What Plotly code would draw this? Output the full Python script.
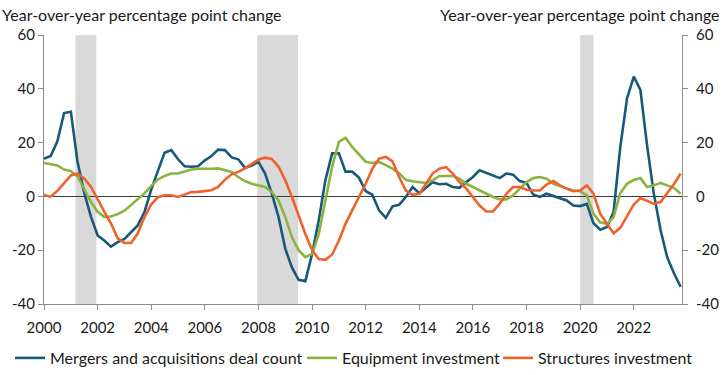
import pandas as pd
import plotly.graph_objects as go

# Quarterly, 2000Q1 .. 2023Q4
quarters = pd.period_range("2000Q1", "2023Q4", freq="Q").to_timestamp()

mna_deal_count = [
    14, 15, 20.5, 31, 31.5, 13, 1.5, -7.5,
    -14.5, -16.4, -18.7, -17, -15.8, -13.3, -10.8, -5.8,
    2.5, 9.5, 16.2, 17.2, 13.8, 11.2, 11, 11.2,
    13.4, 15, 17.4, 17.2, 14.5, 13.8, 10.6, 11.5,
    12.8, 8.5, 1, -7.7, -19.5, -26.4, -31, -31.5,
    -21.4, -9, 6, 16, 16, 9.2, 9.2, 7,
    2, 0.6, -5.2, -8, -3.7, -3.1, -0.2, 3.5,
    1.2, 3.2, 5.3, 4.5, 4.7, 3.5, 3.2, 5.3,
    7.2, 9.7, 8.7, 7.8, 6.8, 8.5, 8.1, 5.7,
    5, 0.7, -0.2, 1, 0.1, -0.5, -1.5, -3.4,
    -3.6, -2.8, -10, -12.4, -11.4, -5.8, 18.4, 36.4,
    44.5, 39.6, 19, 1, -12.5, -22.6, -28.5, -33.6,
]

equipment_investment = [
    12.4, 12, 11.5, 10, 9.4, 7.5, 3, -2,
    -5.7, -7.6, -7.5, -6.6, -5.3, -3.2, -1.1, 1.1,
    3.9, 6.3, 7.6, 8.5, 8.5, 9.3, 10, 10.3,
    10.2, 10.3, 10.4, 9.8, 9.1, 7.2, 5.7, 4.7,
    4.1, 3.5, 1.6, -1.5, -7.7, -15.2, -20, -22.6,
    -21.4, -14, -1.5, 11, 20.3, 21.8, 18.4, 15.7,
    12.9, 12.4, 12.8, 11.6, 10.3, 8.5, 6.2, 5.6,
    5.3, 5, 6, 7.6, 7.6, 7.6, 6.6, 4.7,
    3.5, 2.2, 1, -0.2, -1.1, -1.1, 0.4, 2.9,
    5.3, 6.8, 7.2, 6.6, 4.7, 3.9, 2.9, 2.2,
    1.9, 0.4, -6.5, -9.6, -10.2, -7.7, 1.2, 4.7,
    6.1, 6.8, 3.5, 4.1, 5, 4.1, 3.2, 1,
]

structures_investment = [
    0.5, -0.1, 2.1, 5, 7.8, 8.5, 6.7, 3.6,
    -1.4, -5.7, -10, -15.6, -17.3, -17.3, -13.8, -7.6,
    -3, -0.3, 0.4, 0.4, -0.2, 0.7, 1.6, 1.7,
    2, 2.3, 3.5, 6.2, 8.2, 9.1, 10.4, 12,
    13.7, 14.4, 13.9, 11, 6, -0.2, -7.1, -14,
    -20, -23.3, -23.6, -21.6, -16.4, -10.2, -5.2, -0.2,
    4.7, 10.3, 14, 14.7, 13, 7.2, 2.2, 0.6,
    1, 4.7, 8.5, 10.3, 10.9, 8.5, 5.3, 3,
    -0.2, -3.4, -5.6, -5.6, -2.7, 1, 3.5, 3.5,
    2.5, 2.2, 2.2, 4.4, 5.7, 4.1, 2.9, 1.9,
    2.2, 4.1, 1, -6.5, -10.2, -13.7, -11.7, -7.1,
    -3, -0.6, -1.5, -2.7, -2.1, 1, 4.5, 8.5,
]

series_names = ["Mergers and acquisitions deal count", "Equipment investment", "Structures investment"]
series_colors = ["#17597a", "#8ab43f", "#f0612d"]

recession_start = ["2001-03-05", "2007-12-15", "2020-01-01"]
recession_end = ["2001-12-15", "2009-06-25", "2020-07-01"]

y_tickvals = [-40, -20, 0, 20, 40, 60]
y_ticktext = ["-40", "-20", "0", "20", "40", "60"]
x_tickyears = list(range(2000, 2023, 2))
axis_title = "Year-over-year percentage point change"

FONT = "Lato, 'Open Sans', sans-serif"
TXT = "#1a1a1a"
AXC = "#8c8c8c"

legend_ids = ["legend", "legend2", "legend3"]
legend_x_px = [10, 302, 498]

fig = go.Figure()
for name, vals, col, lg in zip(series_names,
                               [mna_deal_count, equipment_investment, structures_investment],
                               series_colors, legend_ids):
    fig.add_trace(go.Scatter(x=quarters, y=vals, mode="lines", name=name, legend=lg,
                             line=dict(color=col, width=2.6)))

# invisible trace to materialise the right-hand axis
fig.add_trace(go.Scatter(x=quarters, y=mna_deal_count, yaxis="y2", mode="lines",
                         line=dict(color="rgba(0,0,0,0)", width=0), showlegend=False,
                         hoverinfo="skip"))

for s, e in zip(recession_start, recession_end):
    fig.add_shape(type="rect", xref="x", yref="y", x0=s, x1=e, y0=-40, y1=60,
                  fillcolor="#d9d9d9", line=dict(width=0), layer="below")

yax = dict(range=[-40, 60], tickvals=y_tickvals, ticktext=y_ticktext,
           showgrid=False, showline=True, linecolor=AXC, linewidth=1,
           ticks="outside", ticklen=5, tickcolor=AXC, automargin=False,
           tickfont=dict(family=FONT, size=15, color=TXT), fixedrange=True)

legend_common = dict(orientation="h", xanchor="left", yanchor="middle",
                     xref="container", yref="container", y=1 - 358 / 375,
                     font=dict(family=FONT, size=16, color=TXT), bgcolor="rgba(0,0,0,0)")

fig.update_layout(
    width=725, height=375,
    margin=dict(l=44, r=43, t=35, b=71, autoexpand=False),
    paper_bgcolor="white", plot_bgcolor="white",
    font=dict(family=FONT, size=15, color=TXT),
    xaxis=dict(type="date", range=["2000-01-01", "2023-10-20"],
               tickvals=[f"{y}-01-01" for y in x_tickyears],
               ticktext=[str(y) for y in x_tickyears],
               showgrid=False, showline=True, linecolor=AXC, linewidth=1,
               ticks="outside", ticklen=5, tickcolor=AXC, zeroline=False, automargin=False,
               tickfont=dict(family=FONT, size=15, color=TXT), ticklabelstandoff=5),
    yaxis=dict(**yax, zeroline=True, zerolinecolor="#3a3a3a", zerolinewidth=1),
    yaxis2=dict(**yax, overlaying="y", side="right", zeroline=False, ticklabelstandoff=5),
    legend=dict(**legend_common, x=legend_x_px[0] / 725),
    legend2=dict(**legend_common, x=legend_x_px[1] / 725),
    legend3=dict(**legend_common, x=legend_x_px[2] / 725),
    showlegend=True,
    annotations=[
        dict(text=axis_title, xref="paper", yref="paper", x=-0.069, y=1.078,
             xanchor="left", yanchor="middle", showarrow=False,
             font=dict(family=FONT, size=16, color=TXT)),
        dict(text=axis_title, xref="paper", yref="paper", x=1.063, y=1.078,
             xanchor="right", yanchor="middle", showarrow=False,
             font=dict(family=FONT, size=16, color=TXT)),
    ],
)

fig.write_html("out.html", config={"displayModeBar": False},
               post_script="document.body.style.margin='0';document.body.style.padding='0';")
